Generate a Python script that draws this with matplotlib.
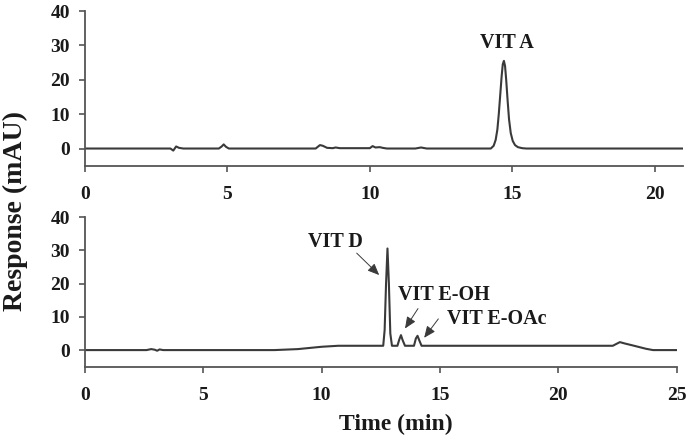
import matplotlib
matplotlib.use("Agg")
import matplotlib.pyplot as plt

plt.rcParams['font.family'] = ['Liberation Serif', 'DejaVu Serif']
plt.rcParams['font.weight'] = 'bold'

# top chromatogram (VIT A), time in min, response in mAU
t_top = [0, 3.0, 3.1, 3.2, 3.3, 3.45, 4.7, 4.8, 4.87, 4.95, 5.05, 8.1, 8.25, 8.35, 8.5, 8.7,
         8.8, 8.95, 10.0, 10.1, 10.2, 10.35, 10.45, 10.6, 11.6, 11.8, 12.0, 14.25, 14.35,
         14.42, 14.48, 14.53, 14.58, 14.63, 14.67, 14.71, 14.75, 14.79, 14.84, 14.89, 14.95,
         15.02, 15.1, 15.2, 15.35, 15.5, 21.0]
y_top = [0, 0, -0.6, 0.6, 0.2, 0, 0, 0.6, 1.2, 0.5, 0, 0, 1.0, 0.8, 0.2, 0.1,
         0.3, 0.1, 0.1, 0.7, 0.3, 0.4, 0.2, 0, 0, 0.3, 0, 0, 0.8,
         2.5, 5.5, 10, 15.5, 21, 24.5, 25.5, 24, 20, 14, 8.5, 4.5,
         2.2, 1.0, 0.4, 0.1, 0, 0]

# bottom chromatogram (VIT D, E-OH, E-OAc)
t_bot = [0, 2.6, 2.8, 2.95, 3.05, 3.15, 3.3, 8.0, 9.0, 10.0, 10.7, 11.5, 12.6, 12.66, 12.72,
         12.78, 12.84, 12.9, 12.97, 13.2, 13.28, 13.35, 13.42, 13.52, 13.9, 13.98, 14.05,
         14.12, 14.22, 22.3, 22.6, 22.8, 23.2, 23.7, 24.0, 25.0]
y_bot = [0, 0, 0.3, 0.1, -0.2, 0.2, 0, 0, 0.3, 1.0, 1.3, 1.3, 1.3, 6, 20,
         30.6, 20, 5, 1.3, 1.3, 3.2, 4.5, 3.0, 1.3, 1.3, 3.5, 4.3,
         3.0, 1.3, 1.3, 2.4, 2.0, 1.3, 0.4, 0, 0]

yticks = [0, 10, 20, 30, 40]
line_col = '#3a3a3a'
axis_col = '#555555'

fig = plt.figure(figsize=(6.9, 4.37), dpi=100)
ax1 = fig.add_axes([0.1232, 0.6208, 0.8667, 0.354])
ax2 = fig.add_axes([0.1232, 0.1609, 0.8575, 0.3419])

for ax, t, y, xmax, xt in [(ax1, t_top, y_top, 21, [0, 5, 10, 15, 20]),
                           (ax2, t_bot, y_bot, 25, [0, 5, 10, 15, 20, 25])]:
    ax.plot(t, y, color=line_col, lw=1.5)
    ax.set_xlim(0, xmax)
    ax.set_ylim(-5, 40)
    ax.set_yticks(yticks)
    ax.set_xticks(xt)
    ax.spines['top'].set_visible(False)
    ax.spines['right'].set_visible(False)
    for s in ['left', 'bottom']:
        ax.spines[s].set_color(axis_col)
        ax.spines[s].set_linewidth(1.3)
    ax.tick_params(axis='both', labelsize=14, colors=axis_col, labelcolor='#1a1a1a',
                   length=4.3, width=1.2)
    ax.tick_params(axis='x', pad=10.5)
    ax.tick_params(axis='y', pad=6.5)
    ax.patch.set_alpha(0)

lab = dict(fontsize=14.5, fontweight='bold', color='#1a1a1a', va='baseline', ha='center')
ax1.text(14.81, 29.1, 'VIT A', **lab)

arrow = dict(arrowstyle='-|>,head_length=0.7,head_width=0.3', color=line_col, lw=0.7,
             mutation_scale=10, shrinkA=0, shrinkB=0)
ax2.text(10.58, 31.1, 'VIT D', **lab)
ax2.annotate('', xy=(12.43, 22.6), xytext=(11.48, 29.2), arrowprops=arrow)
ax2.text(15.17, 15.2, 'VIT E-OH', **lab)
ax2.annotate('', xy=(13.52, 6.5), xytext=(14.07, 12.5), arrowprops=arrow)
ax2.text(17.39, 8.0, 'VIT E-OAc', **lab)
ax2.annotate('', xy=(14.33, 3.7), xytext=(14.93, 9.4), arrowprops=arrow)

fig.text(0.023, 0.517, 'Response (mAU)', rotation=90, ha='center', va='center',
         fontsize=20, fontweight='bold', color='#1a1a1a')
fig.text(0.574, 0.015, 'Time (min)', ha='center', va='baseline', fontsize=17,
         fontweight='bold', color='#1a1a1a')

fig.savefig('out.png', dpi=100)
